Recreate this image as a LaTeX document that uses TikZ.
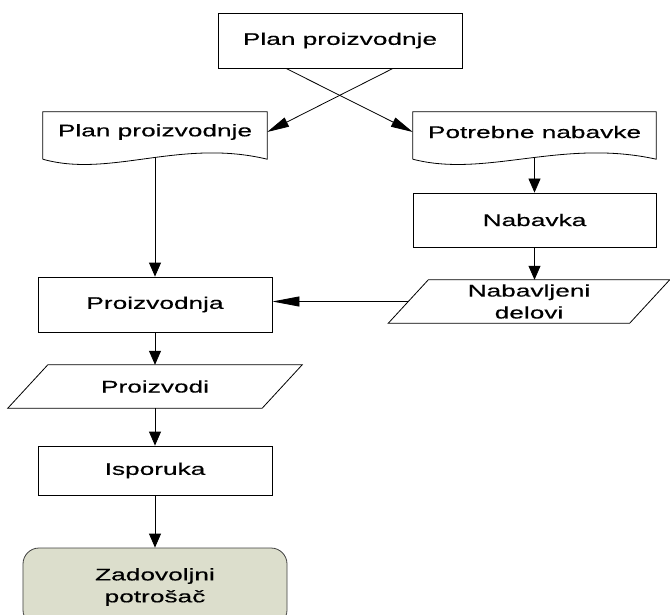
\documentclass[tikz,border=0pt]{standalone}
\usepackage{fontspec}
\newfontfamily\diagfont[FakeStretch=1.56,FakeBold=0.4]{Liberation Sans}
\usetikzlibrary{arrows.meta,calc}
\definecolor{goalfill}{RGB}{220,222,204}
\begin{document}
\begin{tikzpicture}[x=1bp,y=-1bp,
  every node/.style={font=\diagfont\fontsize{16.9}{22}\selectfont, align=center, inner sep=0pt},
  pbox/.style={draw=black, line width=0.8bp},
  pdoc/.style={minimum height=40bp},
  pdata/.style={minimum height=43bp},
  pend/.style={draw=black!75, line width=0.8bp, fill=goalfill, rounded corners=16bp},
  pline/.style={draw=black, line width=0.8bp},
  parr/.style={line width=0.8bp},
  vtip/.style={-{Triangle[length=14bp,width=12bp]}},
  htip/.style={-{Triangle[length=27bp,width=10bp]}},
  dtip/.style={-{Triangle[length=22bp,width=10bp]}}]
\useasboundingbox (0,0) rectangle (670,615);

% process boxes, documents, data and the end state
\node[pbox, minimum width=244bp, minimum height=55bp] (plan) at (340,40.5) {Plan proizvodnje};
\node[pdoc, minimum width=224bp] (plandoc) at (155,132) {Plan proizvodnje};
\node[pdoc, minimum width=243bp] (needs) at (534.5,132) {Potrebne nabavke};
\node[pbox, minimum width=243bp, minimum height=54bp] (buy) at (534.5,220) {Nabavka};
\node[pdata, minimum width=241bp] (parts) at (529,301.5) {Nabavljeni\\delovi};
\node[pbox, minimum width=234bp, minimum height=55bp] (make) at (155,304.5) {Proizvodnja};
\node[pdata, minimum width=254bp] (goods) at (155,386.5) {Proizvodi};
\node[pbox, minimum width=234bp, minimum height=49bp] (ship) at (155,470.5) {Isporuka};
\node[pend, minimum width=264bp, minimum height=78bp] (happy) at (155,587) {Zadovoljni\\potrošač};

% document outlines with a wavy lower edge
\foreach \d in {plandoc,needs}
  \draw[pline] ($(\d.south west)+(0,7)$) -- (\d.north west) -- (\d.north east)
    -- ($(\d.south east)+(0,7)$)
    .. controls ($(\d.south east)!0.388!(\d.south west)+(0,-14)$)
            and ($(\d.south west)!0.299!(\d.south east)+(0,26)$)
    .. ($(\d.south west)+(0,7)$);

% slanted data outlines
\foreach \d in {parts,goods}
  \draw[pline] ($(\d.north west)+(20,0)$) -- ($(\d.north east)+(20,0)$)
    -- ($(\d.south east)+(-20,0)$) -- ($(\d.south west)+(-20,0)$) -- cycle;

% connector end points
\coordinate (planL) at ($(plan.south)+(-54,0)$);
\coordinate (planR) at ($(plan.south)+(53,0)$);
\coordinate (plandocB) at ($(plandoc.south)+(0,6)$);
\coordinate (needsB) at ($(needs.south)+(0,6)$);

% connectors
\draw[parr,dtip] (planR) -- (plandoc.east);
\draw[parr,dtip] (planL) -- (needs.west);
\draw[parr,vtip] (plandocB) -- (make.north);
\draw[parr,vtip] (needsB) -- (buy.north);
\draw[parr,vtip] (buy.south) -- (buy.south |- parts.north);
\draw[parr,htip] (parts.west) -- (parts.west -| make.east);
\draw[parr,vtip] (make.south) -- (goods.north);
\draw[parr,vtip] (goods.south) -- (ship.north);
\draw[parr,vtip] (ship.south) -- (happy.north);
\end{tikzpicture}
\end{document}
